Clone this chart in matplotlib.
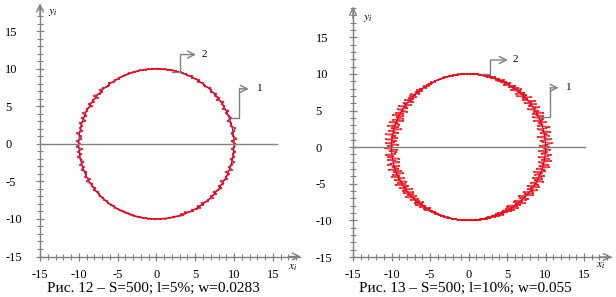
import numpy as np
import matplotlib
matplotlib.use('Agg')
import matplotlib.pyplot as plt
from matplotlib.patches import Circle
from matplotlib.ticker import FixedLocator, MultipleLocator

plt.rcParams['font.family'] = ['Liberation Serif', 'DejaVu Serif']
plt.rcParams['mathtext.fontset'] = 'stix'

# ---------------- data ----------------
major_ticks = [-15, -10, -5, 0, 5, 10, 15]
tick_labels = ['-15', '-10', '-5', '0', '5', '10', '15']
radius = 10.0
center = (0.0, 0.0)
captions = ['Рис. 12 – S=500; l=5%; w=0.0283',
            'Рис. 13 – S=500; l=10%; w=0.055']

# estimated x-deviations of the noisy (red) trace, evenly spaced in angle
dev_left = [
    0.12, -0.28, 0.31, -0.05, -0.22, 0.18, 0.34, -0.15, 0.02, -0.33, 0.21, 0.08, -0.19, 0.29, -0.26, 0.11, -0.04, 0.35, -0.31, 0.16,
    -0.09, 0.24, -0.18, 0.03, 0.27, -0.21, -0.07, 0.14, -0.25, 0.19, 0.06, -0.12, 0.22, -0.16, 0.09, -0.03, 0.13, -0.10, 0.05, -0.08,
    0.04, -0.06, 0.09, 0.02, -0.07, 0.05, -0.03, 0.08, -0.05, 0.03, 0.06, -0.09, 0.04, -0.02, 0.07, -0.06, 0.10, -0.04, 0.08, -0.11,
    0.13, -0.09, 0.18, -0.22, 0.07, 0.25, -0.17, -0.28, 0.21, 0.11, -0.33, 0.29, -0.08, 0.19, -0.26, 0.34, -0.14, 0.03, -0.31, 0.24,
    -0.19, 0.36, -0.27, 0.12, -0.05, 0.30, -0.34, 0.17, 0.26, -0.22, 0.09, -0.30, 0.33, -0.11, 0.20, -0.25, 0.04, 0.28, -0.18, 0.14,
    -0.24, 0.21, 0.07, -0.16, 0.23, -0.29, 0.12, -0.06, 0.18, -0.20, 0.10, 0.03, -0.14, 0.11, -0.08, 0.06, -0.10, 0.04, 0.07, -0.05,
    0.03, -0.06, 0.05, -0.02, 0.08, -0.04, 0.02, -0.07, 0.06, 0.01, -0.05, 0.09, -0.08, 0.04, 0.11, -0.09, 0.14, -0.12, 0.06, 0.17,
    -0.15, 0.22, -0.26, 0.09, 0.31, -0.19, 0.05, -0.34, 0.27, -0.08, 0.20, 0.35, -0.23, 0.13, -0.29, 0.18, -0.02, 0.32, -0.17, 0.25,
    -0.30, 0.10, 0.28, -0.21, 0.15, -0.33, 0.23, -0.04, 0.19, -0.27, 0.30, -0.12, 0.07, 0.26, -0.20, 0.16, -0.09, 0.22, -0.24, 0.05,
]
dev_right = [
    0.42, -0.77, 0.15, 0.83, -0.36, -0.61, 0.70, 0.05, -0.88, 0.53, 0.27, -0.45, 0.79, -0.12, -0.69, 0.34, 0.90, -0.58, 0.08, -0.31,
    0.66, -0.84, 0.21, 0.47, -0.73, 0.59, -0.04, -0.52, 0.86, -0.27, 0.38, -0.80, 0.14, 0.72, -0.40, -0.17, 0.63, -0.66, 0.29, 0.81,
    -0.55, 0.10, -0.35, 0.74, -0.87, 0.44, 0.19, -0.62, 0.57, -0.09, 0.32, -0.75, 0.68, -0.21, 0.50, -0.46, 0.25, 0.61, -0.70, 0.13,
    -0.28, 0.55, -0.49, 0.37, 0.07, -0.42, 0.48, -0.33, 0.22, 0.41, -0.56, 0.16, -0.24, 0.45, -0.38, 0.11, 0.33, -0.29, 0.26, -0.19,
    0.14, -0.22, 0.31, -0.09, 0.18, 0.06, -0.27, 0.20, -0.13, 0.24, -0.17, 0.03, 0.16, -0.21, 0.12, -0.05, 0.19, -0.15, 0.08, -0.11,
    0.07, -0.12, 0.10, 0.04, -0.09, 0.13, -0.06, 0.02, -0.10, 0.08, 0.05, -0.07, 0.11, -0.03, 0.09, -0.12, 0.06, 0.14, -0.16, 0.10,
    -0.18, 0.23, -0.12, 0.29, -0.25, 0.17, 0.34, -0.31, 0.08, -0.39, 0.36, -0.20, 0.27, 0.44, -0.47, 0.15, -0.35, 0.51, -0.28, 0.40,
    -0.58, 0.33, 0.62, -0.44, -0.19, 0.67, -0.71, 0.26, 0.49, -0.63, 0.12, 0.76, -0.54, 0.38, -0.80, 0.58, -0.10, 0.69, -0.47, 0.82,
    -0.74, 0.21, 0.54, -0.85, 0.46, -0.30, 0.88, -0.60, 0.17, 0.71, -0.83, 0.39, -0.07, 0.65, -0.77, 0.52, 0.28, -0.68, 0.85, -0.41,
    0.11, -0.89, 0.73, -0.26, 0.57, 0.43, -0.79, 0.06, -0.50, 0.84, -0.64, 0.30, 0.78, -0.37, -0.72, 0.60, -0.15, 0.47, -0.86, 0.68,
    -0.32, 0.87, -0.53, 0.19, -0.81, 0.64, 0.02, -0.67, 0.75, -0.43, 0.36, -0.90, 0.56, 0.24, -0.59, 0.80, -0.23, -0.48, 0.70, -0.65,
    0.45, -0.34, 0.61, -0.76, 0.09, 0.53, -0.57, 0.35, -0.18, 0.66, -0.49, 0.27, -0.70, 0.41, 0.13, -0.52, 0.58, -0.36, 0.22, -0.44,
    0.31, -0.20, 0.39, -0.25, 0.14, 0.28, -0.33, 0.17, -0.08, 0.24, -0.19, 0.10, -0.14, 0.21, -0.06, 0.15, -0.11, 0.04, 0.12, -0.09,
    0.06, -0.04, 0.09, -0.11, 0.03, 0.08, -0.07, 0.12, -0.05, 0.10, -0.13, 0.07, 0.05, -0.15, 0.18, -0.10, 0.22, -0.17, 0.13, 0.26,
    -0.24, 0.30, -0.36, 0.16, 0.42, -0.33, 0.09, -0.45, 0.37, -0.21, 0.50, -0.39, 0.28, 0.55, -0.52, 0.19, -0.61, 0.46, -0.30, 0.64,
    -0.56, 0.72, -0.38, 0.12, 0.79, -0.68, 0.40, -0.84, 0.59, -0.14, 0.86, -0.62, 0.25, -0.78, 0.51, 0.68, -0.47, 0.04, -0.89, 0.77,
    -0.35, 0.60, -0.73, 0.20, 0.83, -0.51, -0.16, 0.74, -0.82, 0.43, 0.09, -0.66, 0.89, -0.29, 0.56, -0.75, 0.32, 0.63, -0.58, 0.18,
    -0.86, 0.49, 0.23, -0.71, 0.80, -0.40, 0.66, -0.13, -0.60, 0.85, -0.27, 0.52, -0.79, 0.37, 0.71, -0.48, 0.15, -0.83, 0.58, -0.22,
]

# callouts: (label, start_x, start_y, corner_x, top_y, arrow_end_x, label_x)
callouts_left = [('2', 2.0, 9.64, 3.1, 11.9, 5.1, 5.8),
                 ('1', 9.6, 3.43, 10.7, 7.33, 11.9, 12.9)]
callouts_right = [('2', 1.8, 10.0, 2.85, 11.9, 5.1, 5.7),
                  ('1', 9.4, 4.15, 10.6, 8.1, 11.7, 12.6)]

GRAY = '#808080'
ARROW = '->,head_length=0.5,head_width=0.25'


def draw(ax, dev, callouts, ylim_top, ypad, ylab, xlab, hline_end, red_lw):
    ax.set_xlim(-15, 18.5)
    ax.set_ylim(-15, ylim_top)
    for s in ['top', 'right']:
        ax.spines[s].set_visible(False)
    for s in ['left', 'bottom']:
        ax.spines[s].set_color(GRAY)
        ax.spines[s].set_linewidth(1.0)
        ax.spines[s].set_clip_on(False)
    for axis in (ax.xaxis, ax.yaxis):
        axis.set_major_locator(FixedLocator(major_ticks))
        axis.set_minor_locator(MultipleLocator(1))
    ax.set_xticklabels(tick_labels)
    ax.set_yticklabels(tick_labels)
    ax.tick_params(which='major', direction='inout', length=6, width=0.9,
                   color=GRAY, labelsize=9, labelcolor='black')
    ax.tick_params(which='minor', direction='inout', length=4, width=0.8,
                   color=GRAY)
    ax.tick_params(axis='x', which='major', pad=6)
    ax.tick_params(axis='y', which='major', pad=ypad)
    for t in ax.get_yticklabels():
        t.set_horizontalalignment('left')
    ax.patch.set_visible(False)

    # axis arrow heads
    ax.annotate('', xy=(18.6, -15), xytext=(17.0, -15),
                arrowprops=dict(arrowstyle=ARROW, color=GRAY, lw=1.0,
                                shrinkA=0, shrinkB=0),
                annotation_clip=False)
    ax.annotate('', xy=(-15, ylim_top + 0.2), xytext=(-15, ylim_top - 1.5),
                arrowprops=dict(arrowstyle=ARROW, color=GRAY, lw=1.0,
                                shrinkA=0, shrinkB=0),
                annotation_clip=False)

    # exact circle (blue)
    ax.add_patch(Circle(center, radius, fill=False, ec='#1a1aff', lw=0.8, zorder=2))

    # noisy trace (red)
    step = 2 * np.pi / len(dev)
    th = np.arange(len(dev)) * step
    x = center[0] + radius * np.cos(th) + np.array(dev)
    y = center[1] + radius * np.sin(th)
    x = np.append(x, x[0])
    y = np.append(y, y[0])
    ax.plot(x, y, color='#ff0000', lw=red_lw, alpha=0.75, zorder=3,
            marker='s', markersize=1.5, markeredgewidth=0)

    # y = 0 line
    ax.plot([-15, hline_end], [0, 0], color=GRAY, lw=1.0, zorder=4)

    # callouts
    for lab, sx, sy, cx, ty, ex, lx in callouts:
        ax.plot([sx, cx, cx], [sy, sy, ty], color=GRAY, lw=1.0, zorder=4)
        ax.annotate('', xy=(ex, ty), xytext=(cx, ty),
                    arrowprops=dict(arrowstyle=ARROW, color=GRAY, lw=1.0,
                                    shrinkA=0, shrinkB=0))
        ax.text(lx, ty, lab, fontsize=8, ha='left', va='center', color='black')

    ax.text(ylab[0], ylab[1], r'$y_i$', fontsize=8.5, ha='left', va='center')
    ax.text(xlab[0], xlab[1], r'$x_i$', fontsize=8.5, ha='left', va='center',
            clip_on=False)


fig = plt.figure(figsize=(6.16, 2.97), dpi=100)
ax1 = fig.add_axes([40 / 616, 40.5 / 297, 260 / 616, 251.5 / 297])
ax2 = fig.add_axes([353 / 616, 40 / 297, 258 / 616, 249 / 297])

draw(ax1, dev_left, callouts_left, 18.5, 22, (-14.0, 17.6), (16.9, -16.4), 15.5, 1.2)
draw(ax2, dev_right, callouts_right, 19.0, 24, (-13.7, 17.7), (16.6, -16.1), 15.1, 1.0)

fig.text(153 / 616, 1 - 288.5 / 297, captions[0], fontsize=11, ha='center', va='center')
fig.text(465 / 616, 1 - 288.5 / 297, captions[1], fontsize=11, ha='center', va='center')

fig.savefig('out.png', dpi=100)
